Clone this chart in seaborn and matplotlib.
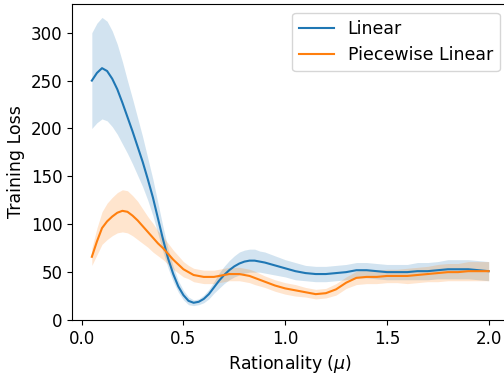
import numpy as np
import pandas as pd
import seaborn as sns
import matplotlib
matplotlib.use("Agg")
import matplotlib.pyplot as plt

# Data (denser sampling where the curves bend)
rationality = [0.05, 0.075, 0.10, 0.125, 0.15, 0.175, 0.20, 0.225, 0.25, 0.275,
               0.30, 0.325, 0.35, 0.375, 0.40, 0.425, 0.45, 0.475, 0.50, 0.525,
               0.55, 0.575, 0.60, 0.625, 0.65, 0.675, 0.70, 0.725, 0.75, 0.775,
               0.80, 0.825, 0.85, 0.875, 0.90,
               0.95, 1.00, 1.05, 1.10, 1.15, 1.20, 1.25, 1.30, 1.35, 1.40,
               1.45, 1.50, 1.55, 1.60, 1.65, 1.70, 1.75, 1.80, 1.85, 1.90,
               1.95, 2.00]

linear_mean = [250, 258, 263, 260, 252, 241, 227, 212, 197, 181,
               165, 147, 128, 106, 84, 64, 48, 35, 26, 20,
               18, 19, 22, 27, 34, 41, 47, 52, 56, 59,
               61, 62, 62, 61, 60,
               57, 54, 51, 49, 48, 48, 49, 50, 52, 52,
               51, 50, 50, 50, 51, 51, 52, 53, 53, 53,
               52, 51]
linear_band = [50, 52, 53, 52, 50, 47, 43, 38, 34, 30,
               26, 22, 19, 16, 13, 10, 8, 6, 5, 4,
               3, 3, 4, 5, 6, 8, 9, 10, 11, 12,
               12, 12, 12, 11, 11,
               10, 9, 9, 8, 8, 8, 8, 8, 8, 8,
               8, 8, 8, 8, 9, 9, 9, 10, 10, 10,
               10, 10]

pw_mean = [66, 82, 96, 103, 108, 112, 114, 113, 109, 104,
           98, 92, 86, 80, 75, 69, 63, 58, 53, 50,
           47, 46, 45, 45, 45, 46, 47, 48, 48, 48,
           47, 46, 44, 42, 40,
           36, 33, 31, 29, 27, 28, 32, 39, 44, 45,
           45, 46, 46, 46, 47, 48, 49, 50, 50, 51,
           51, 51]
pw_band = [9, 14, 17, 19, 20, 21, 22, 22, 21, 20,
           18, 16, 15, 13, 12, 11, 10, 9, 8, 7,
           7, 7, 7, 7, 7, 7, 7, 7, 7, 7,
           7, 7, 7, 6.5, 6,
           6, 6, 6, 5, 5, 5, 6, 6, 7, 7,
           7, 7, 7, 8, 8, 8, 9, 9, 9, 10,
           10, 10]

df = pd.DataFrame({
    "x": rationality * 2,
    "loss": linear_mean + pw_mean,
    "model": ["Linear"] * len(rationality) + ["Piecewise Linear"] * len(rationality),
})

fig = plt.figure(figsize=(5.04, 3.76), dpi=100)
ax = fig.add_axes([72 / 504, 56 / 376, 436.5 / 504, 316 / 376])

colors = {"Linear": "#1f77b4", "Piecewise Linear": "#ff7f0e"}
sns.lineplot(data=df, x="x", y="loss", hue="model", palette=colors, ax=ax, linewidth=1.5)

x = np.array(rationality)
for mean, band, name in [(linear_mean, linear_band, "Linear"),
                         (pw_mean, pw_band, "Piecewise Linear")]:
    m = np.array(mean)
    b = np.array(band)
    ax.fill_between(x, m - b, m + b, color=colors[name], alpha=0.2, linewidth=0)

ax.set_xlim(-0.0475, 2.0975)
ax.set_ylim(0, 330)
ax.set_xticks([0.0, 0.5, 1.0, 1.5, 2.0])
ax.set_yticks([0, 50, 100, 150, 200, 250, 300])
ax.tick_params(labelsize=12)
ax.set_xlabel(r"Rationality ($\mu$)", fontsize=12.5)
ax.set_ylabel("Training Loss", fontsize=12.5)
ax.legend(loc="upper right", fontsize=12.5, title=None)

fig.savefig("out.png", dpi=100)
